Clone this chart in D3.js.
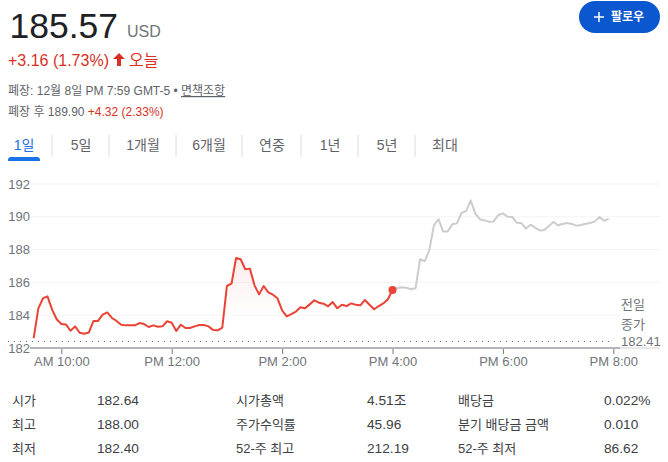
<!DOCTYPE html>
<html>
<head>
<meta charset="utf-8">
<script src="https://cdn.jsdelivr.net/npm/d3@7"></script>
<style>
  html, body { margin: 0; padding: 0; background: #fff; }
  svg { display: block; }
  text { font-family: "Liberation Sans", "Noto Sans CJK KR", sans-serif; }
</style>
</head>
<body>
<svg id="chart" width="668" height="462"></svg>
<script>
// prices, one every 5 minutes from 9:30
const regularPrices = [
  182.6, 184.4, 185.03, 185.15, 184.34, 183.75, 183.46, 183.44, 183.05, 183.32,
  182.93, 182.87, 182.95, 183.65, 183.65, 184.03, 184.17, 183.83, 183.65, 183.42,
  183.38, 183.38, 183.38, 183.52, 183.46, 183.28, 183.38, 183.3, 183.32, 183.63,
  183.54, 183.04, 183.42, 183.22, 183.22, 183.32, 183.4, 183.4, 183.32, 183.1,
  183.08, 183.24, 185.78, 185.92, 187.49, 187.41, 186.8, 186.84, 185.82, 185.27,
  185.78, 185.39, 185.25, 185.03, 184.3, 183.93, 184.07, 184.22, 184.48, 184.42,
  184.66, 184.91, 184.76, 184.7, 184.54, 184.8, 184.42, 184.64, 184.56, 184.72,
  184.64, 184.6, 184.93, 184.64, 184.36, 184.56, 184.72, 184.97, 185.54
];
// after hours, starts on the last regular price
const afterPrices = [
  185.54, 185.64, 185.7, 185.68, 185.58, 185.64, 187.41, 187.3, 187.95, 189.48,
  189.85, 189.11, 189.11, 189.54, 189.6, 190.23, 190.35, 191.0, 190.19, 189.85,
  189.78, 189.7, 189.72, 190.11, 190.21, 190.0, 189.99, 189.64, 189.62, 189.28,
  189.52, 189.34, 189.17, 189.2, 189.44, 189.68, 189.48, 189.56, 189.62, 189.56,
  189.46, 189.5, 189.58, 189.62, 189.72, 189.99, 189.76, 189.87
];
const prevClose = 182.41;
const priceTicks = [182, 184, 186, 188, 190, 192];
const timeTicks = [600, 720, 840, 960, 1080, 1200];
const timeLabels = ['AM 10:00', 'PM 12:00', 'PM 2:00', 'PM 4:00', 'PM 6:00', 'PM 8:00'];
const tabs = ['1일', '5일', '1개월', '6개월', '연중', '1년', '5년', '최대'];
const tabCenters = [24, 81, 143, 209, 272, 330, 387, 445];
const tabSeparators = [52, 109, 176, 242, 301, 358, 415];
const statCols = [
  { labels: ['시가', '최고', '최저'], values: ['182.64', '188.00', '182.40'], lx: 12, vx: 97 },
  { labels: ['시가총액', '주가수익률', '52-주 최고'], values: ['4.51조', '45.96', '212.19'], lx: 236, vx: 367 },
  { labels: ['배당금', '분기 배당금 금액', '52-주 최저'], values: ['0.022%', '0.010', '86.62'], lx: 458, vx: 604 }
];
const statRows = [405, 429, 453];

const svg = d3.select('#chart');
const red = '#ea4335', darkRed = '#d93025', grey = '#70757a', dark = '#202124';

const x = d3.scaleLinear().domain([570, 1200]).range([33.7, 613.3]);
const y = d3.scaleLinear().domain([182, 192]).range([348, 184]);

const regular = regularPrices.map((v, i) => ({ t: 570 + i * 5, v }));
const after = afterPrices.map((v, i) => ({ t: 960 + i * 5, v }));

function label(px, py, str, size, color, anchor) {
  return svg.append('text')
    .attr('x', px).attr('y', py)
    .attr('font-size', size)
    .attr('fill', color)
    .attr('text-anchor', anchor || 'start')
    .text(str);
}

// header
label(9.5, 38, '185.57', 35.5, dark);
label(127, 37, 'USD', 16, grey);
label(8, 66, '+3.16 (1.73%)', 16, darkRed);
svg.append('path')
  .attr('d', 'M119 53l6 6h-4v7h-4v-7h-4z')
  .attr('fill', darkRed);
label(129, 66, '오늘', 16, darkRed);
label(8, 95, '폐장: 12월 8일 PM 7:59 GMT-5 •', 12, '#5f6368');
label(181, 95, '면책조항', 12, '#5f6368').attr('text-decoration', 'underline');
const afterLine = label(8, 116, '폐장 후 189.90 ', 12, '#5f6368');
afterLine.append('tspan').attr('fill', darkRed).text('+4.32 (2.33%)');

// follow button
svg.append('rect').attr('x', 579).attr('y', 1).attr('width', 81).attr('height', 32)
  .attr('rx', 16).attr('fill', '#0b57d0');
svg.append('path').attr('d', 'M599 12v10M594 17h10').attr('stroke', '#fff').attr('stroke-width', 1.5);
label(611, 21, '팔로우', 12, '#fff').attr('font-weight', 700);

// range tabs
svg.selectAll('.tab').data(tabs).join('text')
  .attr('class', 'tab')
  .attr('x', (d, i) => tabCenters[i])
  .attr('y', 150)
  .attr('text-anchor', 'middle')
  .attr('font-size', 14)
  .attr('fill', (d, i) => i === 0 ? '#1a73e8' : '#5f6368')
  .text(d => d);
svg.selectAll('.tabsep').data(tabSeparators).join('line')
  .attr('class', 'tabsep')
  .attr('x1', d => d).attr('x2', d => d)
  .attr('y1', 135).attr('y2', 157)
  .attr('stroke', '#dadce0');
svg.append('path').attr('d', 'M8 161v-1a3 3 0 0 1 3-3h26a3 3 0 0 1 3 3v1z').attr('fill', '#1a73e8');

// grid
svg.selectAll('.grid').data(priceTicks.slice(1)).join('line')
  .attr('class', 'grid')
  .attr('x1', 31).attr('x2', 660)
  .attr('y1', d => y(d)).attr('y2', d => y(d))
  .attr('stroke', '#f3f3f3');

// fill under the regular session
const defs = svg.append('defs');
const grad = defs.append('linearGradient').attr('id', 'fade')
  .attr('gradientUnits', 'userSpaceOnUse')
  .attr('x1', 0).attr('x2', 0).attr('y1', y(187.5)).attr('y2', y(184));
grad.append('stop').attr('offset', 0).attr('stop-color', red).attr('stop-opacity', 0.1);
grad.append('stop').attr('offset', 1).attr('stop-color', red).attr('stop-opacity', 0);

svg.append('path').datum(regular)
  .attr('fill', 'url(#fade)')
  .attr('d', d3.area().x(d => x(d.t)).y0(y(prevClose)).y1(d => y(d.v)));

// previous close dots
svg.append('line')
  .attr('x1', 8).attr('x2', 614)
  .attr('y1', y(prevClose)).attr('y2', y(prevClose))
  .attr('stroke', '#70757a')
  .attr('stroke-dasharray', '1 5')
  .attr('shape-rendering', 'crispEdges');

// axes
const yAxis = svg.append('g').attr('transform', 'translate(30,0)')
  .call(d3.axisLeft(y).tickValues(priceTicks).tickSize(0).tickPadding(0).tickFormat(d3.format('d')));
yAxis.select('.domain').remove();
yAxis.selectAll('text').attr('font-size', 13).attr('fill', grey).attr('font-family', null);

const xAxis = svg.append('g').attr('transform', 'translate(0,348)')
  .call(d3.axisBottom(x).tickValues(timeTicks).tickSize(6).tickPadding(3)
    .tickFormat((d, i) => timeLabels[i]));
xAxis.select('.domain').remove();
xAxis.selectAll('line').attr('stroke', '#777');
xAxis.selectAll('text').attr('font-size', 13).attr('fill', grey).attr('font-family', null);

svg.append('line').attr('x1', 30).attr('x2', 620).attr('y1', 348).attr('y2', 348)
  .attr('stroke', '#b4b4bb').attr('stroke-width', 2);

// prices
const line = d3.line().x(d => x(d.t)).y(d => y(d.v));
svg.append('path').datum(after)
  .attr('fill', 'none').attr('stroke', '#cccccc').attr('stroke-width', 2)
  .attr('stroke-linejoin', 'round').attr('d', line);
svg.append('path').datum(regular)
  .attr('fill', 'none').attr('stroke', red).attr('stroke-width', 2)
  .attr('stroke-linejoin', 'round').attr('d', line);
const last = regular[regular.length - 1];
svg.append('circle').attr('cx', x(last.t)).attr('cy', y(last.v)).attr('r', 4).attr('fill', red);

// previous close label sits over the grid
svg.append('rect').attr('x', 620).attr('y', 296).attr('width', 41).attr('height', 52).attr('fill', '#fff');
svg.append('line').attr('x1', 620).attr('x2', 660).attr('y1', 348).attr('y2', 348).attr('stroke', '#d0d0d0');
label(621, 309, '전일', 13, grey);
label(621, 329, '종가', 13, grey);
label(621, 346, d3.format('.2f')(prevClose), 13, grey);

// stats table
statCols.forEach(col => {
  col.labels.forEach((s, i) => label(col.lx, statRows[i], s, 13, '#3c4043'));
  col.values.forEach((s, i) => label(col.vx, statRows[i], s, 13.7, '#3c4043'));
});
</script>
</body>
</html>
